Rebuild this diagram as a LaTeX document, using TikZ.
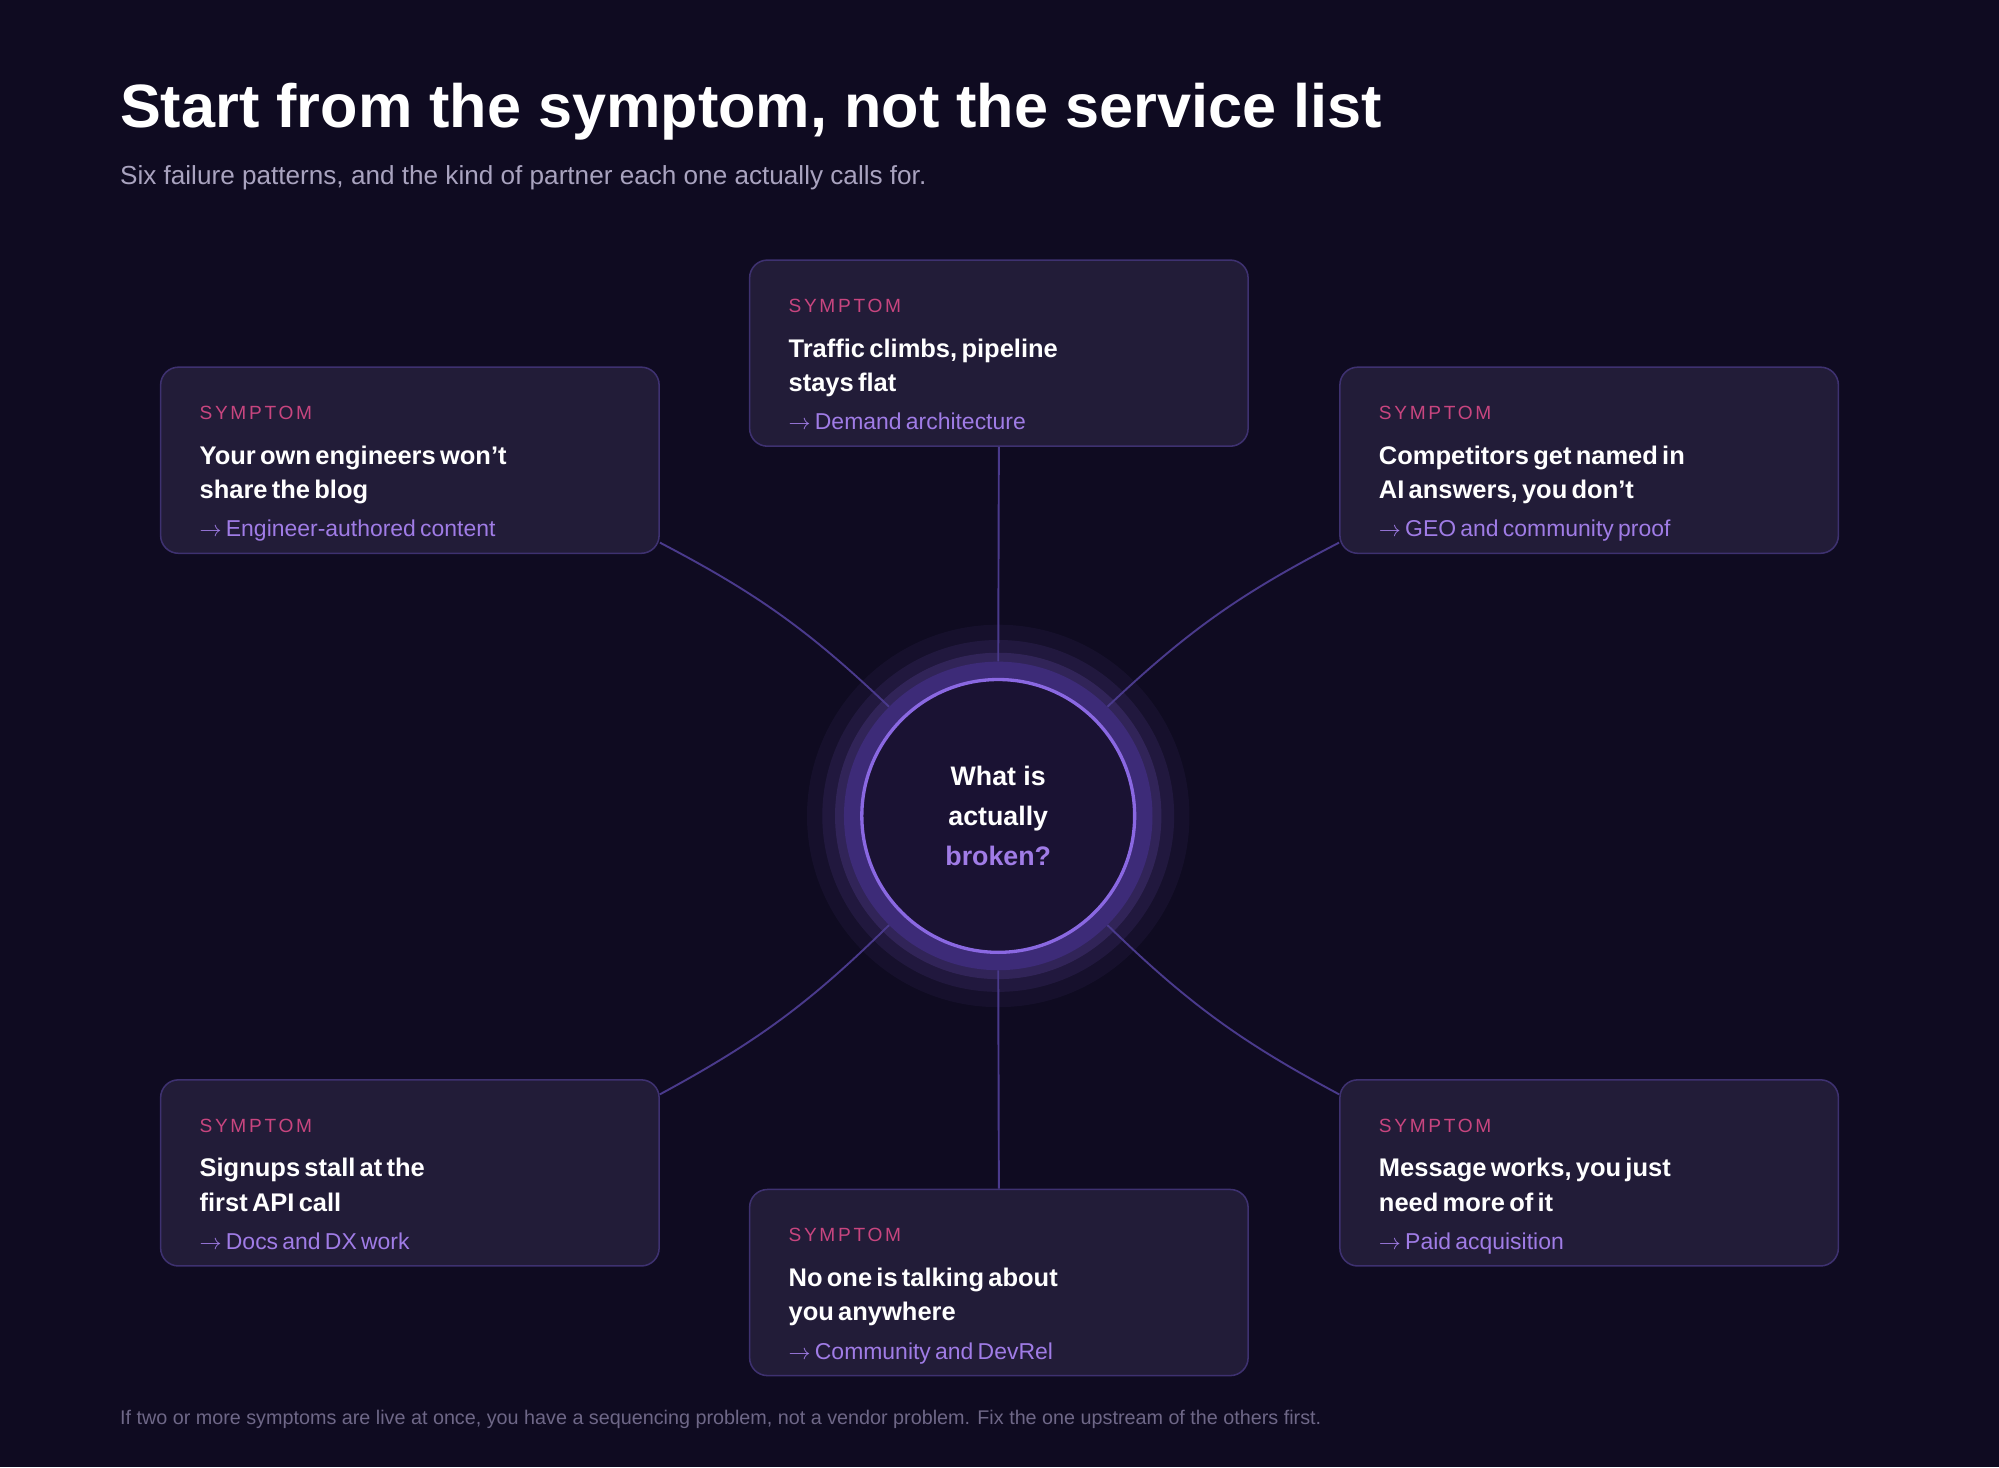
\documentclass[tikz,border=0pt]{standalone}
\usepackage{fontspec}
\setmainfont{Liberation Sans}
\usepackage{tikz}
\usetikzlibrary{positioning}
\definecolor{bgdark}{HTML}{0F0B21}
\definecolor{boxfill}{HTML}{221C38}
\definecolor{boxline}{HTML}{3E3170}
\definecolor{wire}{HTML}{4A3A8C}
\definecolor{tagpink}{HTML}{C8457F}
\definecolor{fixviolet}{HTML}{A07CE6}
\definecolor{subgray}{HTML}{A9A3BF}
\definecolor{footgray}{HTML}{6E6787}
\definecolor{hubfill}{HTML}{1A1233}
\definecolor{hubring}{HTML}{3D2B78}
\definecolor{hubline}{HTML}{8A68E2}

\newcommand{\symptombox}[5]{%
  \node[box] (#1) at #2 {};
  \node[boxtext] (#1-text) at ([xshift=31pt,yshift=-31pt]#1.north west) {%
    {\fontsize{15}{15}\selectfont\color{tagpink}\addfontfeature{LetterSpace=14}SYMPTOM\par}
    \vspace{8pt}
    {\fontsize{20}{27}\selectfont\bfseries\color{white}#3\\#4\par}
    {\fontsize{18}{30}\selectfont\color{fixviolet}$\rightarrow$ #5\par}};
}

\begin{document}
\begin{tikzpicture}[x=1pt, y=-1pt,
    box/.style={draw=boxline, line width=1.2pt, fill=boxfill, rounded corners=14pt,
      minimum width=391pt, minimum height=146pt, inner sep=0pt},
    boxtext/.style={anchor=north west, inner sep=0pt, text width=340pt, align=left},
    wire/.style={draw=wire, line width=1.5pt}]
  \fill[bgdark] (0,0) rectangle (1568,1151);
  \useasboundingbox (0,0) rectangle (1568,1151);

  % heading
  \node[anchor=base west, inner sep=0pt, text=white, font=\fontsize{48}{48}\selectfont\bfseries] (title) at (94,100) {Start from the symptom, not the service list};
  \node[anchor=base west, inner sep=0pt, text=subgray, font=\fontsize{20.5}{24}\selectfont] (subtitle) at (94,145) {Six failure patterns, and the kind of partner each one actually calls for.};

  % hub
  \foreach \r/\o in {150/0.06, 138/0.10, 128/0.16}
    \fill[hubline, opacity=\o] (783,640) circle (\r pt);
  \node[circle, fill=hubring, minimum size=242pt, inner sep=0pt] (ring) at (783,640) {};

  % symptoms
  \symptombox{tc}{(783.5,277)}{Traffic climbs, pipeline}{stays flat}{Demand architecture}
  \symptombox{lt}{(321.5,361)}{Your own engineers won't}{share the blog}{Engineer-authored content}
  \symptombox{rt}{(1246.5,361)}{Competitors get named in}{AI answers, you don't}{GEO and community proof}
  \symptombox{lb}{(321.5,920)}{Signups stall at the}{first API call}{Docs and DX work}
  \symptombox{bc}{(783.5,1006)}{No one is talking about}{you anywhere}{Community and DevRel}
  \symptombox{rb}{(1246.5,920)}{Message works, you just}{need more of it}{Paid acquisition}

  % connectors
  \draw[wire] (tc.south) -- (ring.north);
  \draw[wire] (bc.north) -- (ring.south);
  \draw[wire] ([yshift=9pt]lt.south east) to[bend left=8] (ring.135);
  \draw[wire] ([yshift=9pt]rt.south west) to[bend right=8] (ring.45);
  \draw[wire] ([yshift=-12pt]lb.north east) to[bend right=8] (ring.225);
  \draw[wire] ([yshift=-12pt]rb.north west) to[bend left=8] (ring.315);

  \node[circle, fill=hubfill, draw=hubline, line width=2.6pt, minimum size=214pt, inner sep=0pt,
    align=center, text=white, font=\fontsize{21}{31.5}\selectfont\bfseries] (hub) at (783,640)
    {What is\\actually\\\textcolor{fixviolet}{broken?}};

  % footer
  \node[anchor=base west, inner sep=0pt, text=footgray, font=\fontsize{15.5}{18}\selectfont] (footer) at (94,1117) {If two or more symptoms are live at once, you have a sequencing problem, not a vendor problem. Fix the one upstream of the others first.};
\end{tikzpicture}
\end{document}
